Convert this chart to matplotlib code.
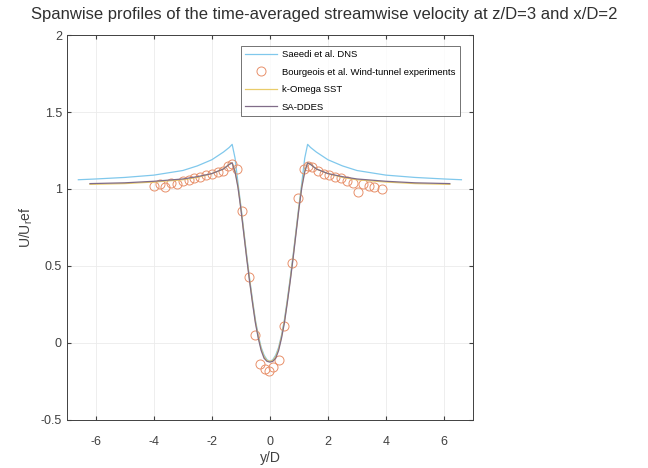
import matplotlib.pyplot as plt
from matplotlib.ticker import FuncFormatter
from matplotlib import font_manager

plt.rcParams['font.family'] = ['Liberation Sans', 'DejaVu Sans']

# Saeedi et al. DNS
dns_y = [-6.6, -6.0, -5.0, -4.0, -3.0, -2.5, -2.0, -1.6, -1.4, -1.3, -1.2, -1.1, -1.0,
         -0.9, -0.8, -0.7, -0.6, -0.5, -0.4, -0.3, -0.2, -0.1, 0.0,
         0.1, 0.2, 0.3, 0.4, 0.5, 0.6, 0.7, 0.8, 0.9,
         1.0, 1.1, 1.2, 1.3, 1.4, 1.6, 2.0, 2.5, 3.0, 4.0, 5.0, 6.0, 6.6]
dns_u = [1.06, 1.065, 1.075, 1.09, 1.12, 1.15, 1.19, 1.24, 1.27, 1.29, 1.2, 1.04, 0.89,
         0.73, 0.57, 0.42, 0.28, 0.15, 0.05, -0.03, -0.08, -0.11, -0.12,
         -0.11, -0.08, -0.03, 0.05, 0.15, 0.28, 0.42, 0.57, 0.73,
         0.89, 1.04, 1.2, 1.29, 1.27, 1.24, 1.19, 1.15, 1.12, 1.09, 1.075, 1.065, 1.06]

# Bourgeois et al. wind-tunnel experiments
exp_y = [-4.0, -3.8, -3.6, -3.4, -3.2, -3.0, -2.8, -2.6, -2.4, -2.2, -2.0, -1.8, -1.6,
         -1.45, -1.3, -1.15, -0.95, -0.72, -0.5, -0.33, -0.18, -0.02, 0.12, 0.3,
         0.5, 0.75, 0.98, 1.17, 1.3, 1.45, 1.65, 1.85, 2.05, 2.25, 2.45, 2.65,
         2.85, 3.05, 3.2, 3.4, 3.6, 3.85]
exp_u = [1.02, 1.03, 1.01, 1.04, 1.03, 1.05, 1.06, 1.07, 1.08, 1.09, 1.1, 1.11, 1.12,
         1.15, 1.16, 1.13, 0.86, 0.43, 0.05, -0.14, -0.17, -0.18, -0.16, -0.11,
         0.11, 0.52, 0.94, 1.13, 1.15, 1.14, 1.12, 1.1, 1.09, 1.08, 1.07, 1.05,
         1.04, 0.98, 1.03, 1.02, 1.01, 1.0]

# k-Omega SST
sst_y = [-6.2, -5.0, -4.0, -3.0, -2.5, -2.0, -1.6, -1.4, -1.3, -1.2, -1.1, -1.0,
         -0.9, -0.8, -0.7, -0.6, -0.5, -0.4, -0.3, -0.2, -0.1, 0.0,
         0.1, 0.2, 0.3, 0.4, 0.5, 0.6, 0.7, 0.8, 0.9,
         1.0, 1.1, 1.2, 1.3, 1.4, 1.6, 2.0, 2.5, 3.0, 4.0, 5.0, 6.2]
sst_u = [1.03, 1.035, 1.045, 1.06, 1.075, 1.1, 1.13, 1.16, 1.17, 1.12, 1.02, 0.88,
         0.72, 0.56, 0.41, 0.27, 0.14, 0.04, -0.04, -0.09, -0.115, -0.12,
         -0.115, -0.09, -0.04, 0.04, 0.14, 0.27, 0.41, 0.56, 0.72,
         0.88, 1.02, 1.12, 1.17, 1.16, 1.13, 1.1, 1.075, 1.06, 1.045, 1.035, 1.03]

# SA-DDES
dde_y = [-6.2, -5.0, -4.0, -3.0, -2.5, -2.0, -1.6, -1.4, -1.3, -1.2, -1.1, -1.0,
         -0.9, -0.8, -0.7, -0.6, -0.5, -0.4, -0.3, -0.2, -0.1, 0.0,
         0.1, 0.2, 0.3, 0.4, 0.5, 0.6, 0.7, 0.8, 0.9,
         1.0, 1.1, 1.2, 1.3, 1.4, 1.6, 2.0, 2.5, 3.0, 4.0, 5.0, 6.2]
dde_u = [1.035, 1.04, 1.05, 1.065, 1.08, 1.1, 1.13, 1.16, 1.17, 1.11, 1.01, 0.87,
         0.71, 0.55, 0.4, 0.26, 0.13, 0.03, -0.05, -0.1, -0.12, -0.125,
         -0.12, -0.1, -0.05, 0.03, 0.13, 0.26, 0.4, 0.55, 0.71,
         0.87, 1.01, 1.11, 1.17, 1.16, 1.13, 1.1, 1.08, 1.065, 1.05, 1.04, 1.035]

x_ticks = [-6, -4, -2, 0, 2, 4, 6]
y_ticks = [-0.5, 0, 0.5, 1, 1.5, 2]

# narrow face for the legend if it is there
names = {f.name for f in font_manager.fontManager.ttflist}
leg_family = ['Liberation Sans Narrow'] if 'Liberation Sans Narrow' in names else ['Liberation Sans']

fig = plt.figure(figsize=(6.48, 4.68), dpi=100)
ax = fig.add_axes([0.103, 0.103, 0.627, 0.822])

ax.plot(dns_y, dns_u, color='#80c8ec', lw=0.9, label='Saeedi et al. DNS')
ax.plot(exp_y, exp_u, 'o', mfc='none', mec='#e8906a', ms=6.5, mew=0.7,
        label='Bourgeois et al. Wind-tunnel experiments')
ax.plot(sst_y, sst_u, color='#e9cc6a', lw=0.9, label='k-Omega SST')
ax.plot(dde_y, dde_u, color='#806c88', lw=0.9, label='SA-DDES')

ax.set_xlim(-7, 7)
ax.set_ylim(-0.5, 2)
ax.set_xticks(x_ticks)
ax.set_yticks(y_ticks)
ax.yaxis.set_major_formatter(FuncFormatter(lambda v, p: f'{v:g}'))
ax.xaxis.set_major_formatter(FuncFormatter(lambda v, p: f'{v:g}'))
ax.tick_params(direction='in', top=True, right=True, labelsize=9, colors='#404040', length=3)
ax.tick_params(axis='x', pad=12)
ax.grid(True, color='#ebebeb', lw=0.6)
for s in ax.spines.values():
    s.set_color('#404040')
    s.set_linewidth(0.7)

ax.set_xlabel('y/D', fontsize=10, color='#404040', labelpad=2)
ax.set_ylabel('U/U$_\\mathregular{r}$ef', fontsize=10, color='#404040', labelpad=4)
fig.text(0.5, 0.968, 'Spanwise profiles of the time-averaged streamwise velocity at z/D=3 and x/D=2',
         ha='center', va='center', fontsize=12, color='#303030')

leg = ax.legend(loc='upper right', bbox_to_anchor=(0.972, 0.977), frameon=True,
                prop={'family': leg_family, 'size': 6.8}, fancybox=False, edgecolor='#505050',
                handlelength=3.4, handletextpad=0.5, borderpad=0.45, labelspacing=0.9,
                borderaxespad=0.2)
leg.get_frame().set_linewidth(0.7)

fig.savefig('out.png', dpi=100)
